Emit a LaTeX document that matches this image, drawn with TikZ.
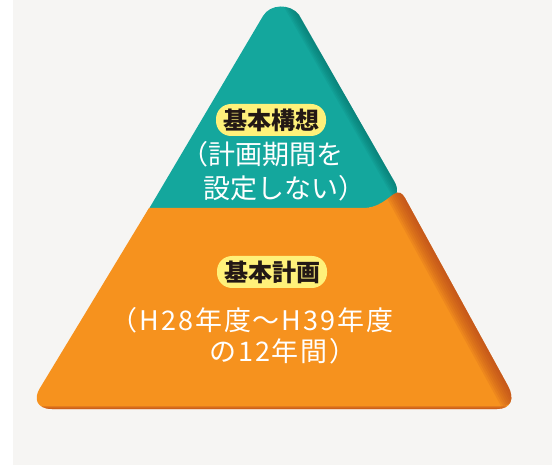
\documentclass[tikz,border=0pt]{standalone}
\usepackage{fontspec}
\setmainfont{Noto Sans CJK JP}
\newfontfamily\spacedjp[LetterSpace=7]{Noto Sans CJK JP}
\usepackage{tikz}
\definecolor{bggray}{RGB}{246,245,243}
\definecolor{tealc}{RGB}{20,167,157}
\definecolor{tealdark}{RGB}{6,112,104}
\definecolor{orangec}{RGB}{246,146,30}
\definecolor{orangedark}{RGB}{178,62,26}
\definecolor{pillyellow}{RGB}{255,241,122}
\definecolor{inkdark}{RGB}{35,24,21}
\tikzset{
  pill/.style={fill=pillyellow, rounded corners=15pt, minimum height=32pt, inner xsep=7pt, inner ysep=0pt,
    text=inkdark, font=\fontsize{24}{28}\selectfont\bfseries},
  note/.style={text=white, inner sep=0pt, font=\fontsize{27}{32}\selectfont},
  widenote/.style={note, font=\spacedjp\fontsize{27}{32}\selectfont}
}
\newcommand{\upperpart}{(140,224) -- (263,16) .. controls (270,4) and (290,3) .. (299,15) -- (394,181) .. controls (400,191) and (397,199) .. (385,204) -- (300,224) -- cycle}
\newcommand{\lowerpart}{(149,208) -- (364,208) .. controls (378,208) and (388,198) .. (394,194) .. controls (399,191) and (402,193) .. (405,198) -- (508,386) .. controls (515,399) and (511,409) .. (497,409) -- (52,409) .. controls (37,409) and (33,399) .. (40,388) -- cycle}

\begin{document}
\begin{tikzpicture}[x=1pt,y=-1pt]
      \useasboundingbox (0,0) rectangle (552,465);
      \fill[white] (0,0) rectangle (552,465);
      \fill[bggray] (13,0) rectangle (552,465);
      % upper part
      \fill[tealc] \upperpart;
      \begin{scope}
        \clip \upperpart;
        \foreach \w in {3,6,...,18}
          \draw[tealdark, line width=\w pt, opacity=0.13] (292,3) -- (402,195);
      \end{scope}
      % lower part
      \fill[orangec] \lowerpart;
      \begin{scope}
        \clip \lowerpart;
        \foreach \w in {4,8,...,32}
          \draw[orangedark, line width=\w pt, opacity=0.12] (399,187) -- (516,400);
        \foreach \w in {2,4,6}
          \draw[orangedark, line width=\w pt, opacity=0.25] (30,409) -- (520,409);
      \end{scope}
      \node[pill] (concept) at (271,120) {基本構想};
      \node[note] (conceptnote1) at (262,154) {（計画期間を};
      \node[note] (conceptnote2) at (284,188) {設定しない）};
      \node[pill] (plan) at (272,272) {基本計画};
      \node[widenote] (plannote1) at (252,320) {（H28年度～H39年度};
      \node[widenote] (plannote2) at (283,351) {の12年間）};
    \end{tikzpicture}
\end{document}
